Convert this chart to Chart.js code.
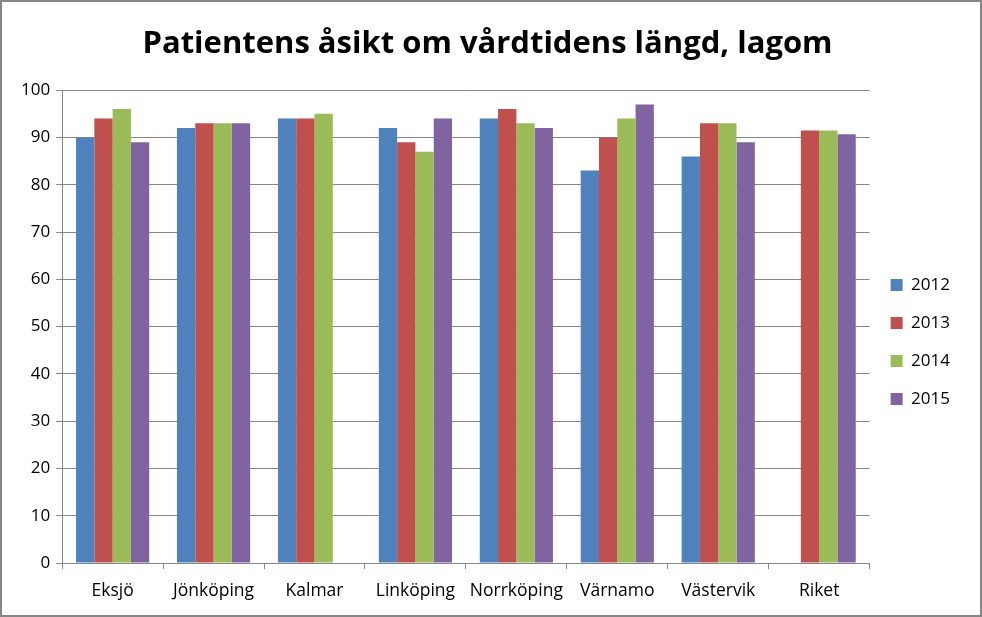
<!DOCTYPE html>
<html>
<head>
<meta charset="utf-8">
<script src="https://cdn.jsdelivr.net/npm/chart.js@4/dist/chart.umd.min.js"></script>
<style>
  body { margin: 0; background: #fff; }
  #wrap { width: 982px; height: 617px; box-sizing: border-box; border: 2px solid #868686; position: relative; }
  canvas { display: block; }
</style>
</head>
<body>
<div id="wrap"><canvas id="chart" width="978" height="613"></canvas></div>
<script>
// Data
const categories = ['Eksjö', 'Jönköping', 'Kalmar', 'Linköping', 'Norrköping', 'Värnamo', 'Västervik', 'Riket'];
const years = ['2012', '2013', '2014', '2015'];
const values2012 = [90, 92, 94, 92, 94, 83, 86, null];
const values2013 = [94, 93, 94, 89, 96, 90, 93, 91.5];
const values2014 = [96, 93, 95, 87, 93, 94, 93, 91.5];
const values2015 = [89, 93, null, 94, 92, 97, 89, 90.7];
const yTicks = [0, 10, 20, 30, 40, 50, 60, 70, 80, 90, 100];
const colors = ['#4f81bd', '#c0504d', '#9bbb59', '#8064a2'];

document.addEventListener('DOMContentLoaded', function() {
    const ctx = document.getElementById('chart').getContext('2d');
    const series = [values2012, values2013, values2014, values2015];

    new Chart(ctx, {
        type: 'bar',
        data: {
            labels: categories,
            datasets: years.map((y, i) => ({
                label: y,
                data: series[i],
                backgroundColor: colors[i],
                borderWidth: 0,
                categoryPercentage: 0.725,
                barPercentage: 1.0
            }))
        },
        options: {
            responsive: false,
            animation: false,
            layout: { padding: { left: 13, right: 20, top: 0, bottom: 1 } },
            scales: {
                x: {
                    grid: { display: true, drawOnChartArea: false, drawTicks: true, tickLength: 6, color: '#868686' },
                    border: { color: '#868686' },
                    ticks: { color: '#000', font: { family: 'Open Sans', size: 17.5 }, padding: 12 }
                },
                y: {
                    min: 0,
                    max: 100,
                    afterBuildTicks: axis => { axis.ticks = yTicks.map(v => ({ value: v })); },
                    grid: { color: '#868686', tickLength: 6 },
                    border: { color: '#868686' },
                    ticks: { color: '#000', font: { family: 'Open Sans', size: 17 }, padding: 6 }
                }
            },
            plugins: {
                title: {
                    display: true,
                    text: 'Patientens åsikt om vårdtidens längd, lagom',
                    color: '#000',
                    font: { family: 'Open Sans', size: 31, weight: 'bold' },
                    padding: { top: 24, bottom: 27 }
                },
                legend: {
                    position: 'right',
                    title: { display: true, text: ' ', padding: { top: 0, bottom: 53.6 } },
                    labels: {
                        color: '#000',
                        boxWidth: 12,
                        boxHeight: 12,
                        padding: 21,
                        font: { family: 'Open Sans', size: 17 }
                    }
                },
                tooltip: { enabled: false }
            }
        }
    });
});
</script>
</body>
</html>
